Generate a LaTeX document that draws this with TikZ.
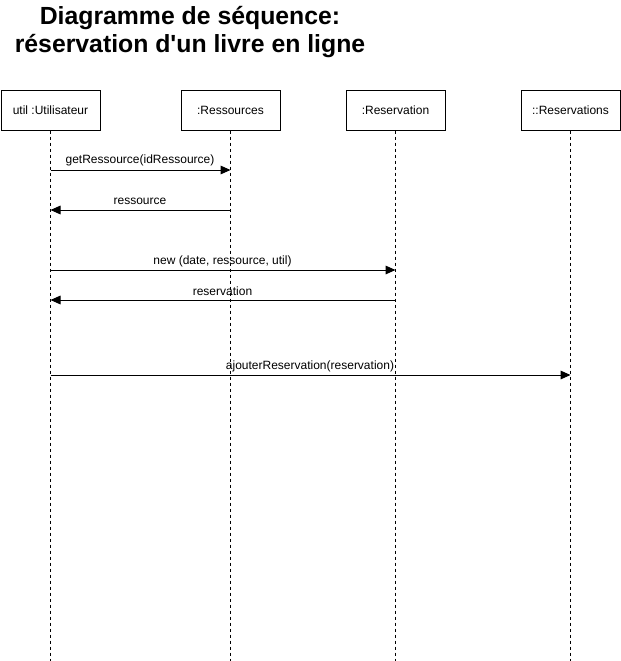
\documentclass[tikz,border=0pt]{standalone}
\usepackage{fontspec}
\setmainfont{Liberation Sans}[Ligatures=TeXOff]
\usetikzlibrary{arrows.meta}
\begin{document}
\begin{tikzpicture}[x=0.75pt,y=-0.75pt,
 obj/.style={draw,line width=0.75pt,minimum width=74.25pt,minimum height=30pt,inner sep=0pt,font=\fontsize{9}{11}\selectfont},
 life/.style={line width=0.75pt,dash pattern=on 2.25pt off 2.25pt},
 msg/.style={line width=0.75pt,-{Triangle[length=7.5pt,width=6.5pt]}},
 lbl/.style={font=\fontsize{9}{11}\selectfont,inner sep=0pt}]
\useasboundingbox (0,0) rectangle (621,661);
\node[font=\bfseries\fontsize{18.6}{21}\selectfont,align=center] (title) at (190,32) {Diagramme de séquence:\\réservation d'un livre en ligne};
\node[obj] (u) at (50.5,110) {util :Utilisateur};
\node[obj] (r) at (230.5,110) {:Ressources};
\node[obj] (v) at (395.5,110) {:Reservation};
\node[obj] (s) at (570.5,110) {::Reservations};
\coordinate (bot) at (0,661);
\foreach \n in {u,r,v,s} {
  \coordinate (\n end) at (\n.south |- bot);
  \draw[life] (\n.south) -- (\n end);
}
\coordinate (y1) at (0,170);
\coordinate (y2) at (0,210);
\coordinate (y3) at (0,270);
\coordinate (y4) at (0,300);
\coordinate (y5) at (0,375);
\draw[msg] (u.south |- y1) -- (r.south |- y1);
\node[lbl] (l1) at (140,160) {getRessource(idRessource)};
\draw[msg] (r.south |- y2) -- (u.south |- y2);
\node[lbl] (l2) at (140,201) {ressource};
\draw[msg] (u.south |- y3) -- (v.south |- y3);
\node[lbl] (l3) at (222.5,261) {new (date, ressource, util)};
\draw[msg] (v.south |- y4) -- (u.south |- y4);
\node[lbl] (l4) at (222.5,291) {reservation};
\draw[msg] (u.south |- y5) -- (s.south |- y5);
\node[lbl] (l5) at (310,366) {ajouterReservation(reservation)};
\end{tikzpicture}
\end{document}
